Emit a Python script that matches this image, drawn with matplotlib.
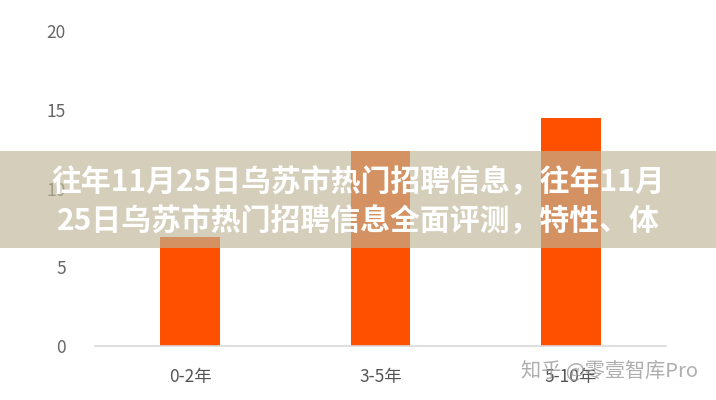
import matplotlib
matplotlib.use("Agg")
import matplotlib.pyplot as plt
from matplotlib.patches import Rectangle

plt.rcParams['font.family'] = ['Noto Sans CJK SC', 'DejaVu Sans']

categories = ["0-2年", "3-5年", "5-10年"]
values = [6.9, 12.4, 14.5]
yticks = [0, 5, 10, 15, 20]
title_lines = ["往年11月25日乌苏市热门招聘信息，往年11月",
               "25日乌苏市热门招聘信息全面评测，特性、体"]
watermark = "知乎 @零壹智库Pro"

W, H = 716, 400
fig = plt.figure(figsize=(W / 100, H / 100), dpi=100)
fig.patch.set_facecolor("white")
ax = fig.add_axes([95 / W, (H - 346) / H, (666 - 95) / W, (346 - 31) / H])

x = list(range(len(categories)))
ax.bar(x, values, width=0.315, color="#FF5000", zorder=2)
ax.set_xlim(-0.5, len(categories) - 0.5)
ax.set_ylim(0, 20)
ax.set_yticks(yticks)
ax.set_yticklabels([str(v) for v in yticks], color="#666666", fontsize=12.5)
ax.set_xticks(x)
ax.set_xticklabels(categories, color="#555555", fontsize=12.5)
ax.tick_params(axis="y", length=0, pad=21)
ax.tick_params(axis="x", length=0, pad=16)
for s in ["top", "right", "left"]:
    ax.spines[s].set_visible(False)
ax.spines["bottom"].set_color("#d9d9d9")
ax.spines["bottom"].set_linewidth(1.2)

# translucent title band
band = Rectangle((0, (H - 248) / H), 1, (248 - 151) / H, transform=fig.transFigure,
                 facecolor=(190 / 255, 181 / 255, 151 / 255), alpha=0.66,
                 edgecolor="none", zorder=5)
fig.patches.append(band)
fig.text(0.5, (H - 183) / H, title_lines[0], ha="center", va="center",
         color="white", fontsize=21.5, fontweight="bold", zorder=6)
fig.text(0.5, (H - 222) / H, title_lines[1], ha="center", va="center",
         color="white", fontsize=21.5, fontweight="bold", zorder=6)

fig.text(698 / W, (H - 371) / H, watermark, ha="right", va="center",
         color="#9a9a9a", alpha=0.8, fontsize=14.5, zorder=6)

fig.savefig("out.png", dpi=100)
